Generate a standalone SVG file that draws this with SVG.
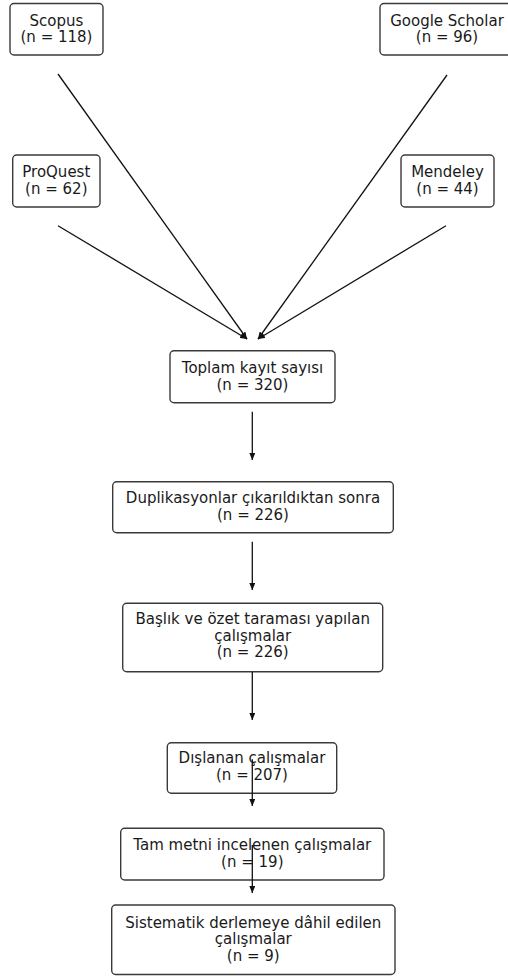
<svg xmlns="http://www.w3.org/2000/svg" width="508" height="976" viewBox="0 0 508 976">
<style>
.box{fill:#fff;stroke:#3a3a3a;stroke-width:1.4}
.lbl{font-family:"DejaVu Sans","Liberation Sans",sans-serif;font-size:15px;fill:#1a1a1a;text-anchor:middle}
.edge{stroke:#111;stroke-width:1.3;fill:none;marker-end:url(#ah)}
</style>
<defs>
<marker id="ah" markerUnits="userSpaceOnUse" markerWidth="7" markerHeight="6" viewBox="0 0 7 6" refX="7" refY="3" orient="auto">
<path d="M0,0 L7,3 L0,6 Z" fill="#111"/>
</marker>
</defs>
<rect width="508" height="976" fill="#fff"/>
<g id="scopus">
<rect class="box" x="10" y="3.5" width="93" height="51.5" rx="4"/>
<text class="lbl" x="56.5" y="26">Scopus</text>
<text class="lbl" x="56.5" y="42.3">(n = 118)</text>
</g>
<g id="google-scholar">
<rect class="box" x="380" y="3.5" width="134" height="51.5" rx="4"/>
<text class="lbl" x="447" y="26">Google Scholar</text>
<text class="lbl" x="447" y="42.3">(n = 96)</text>
</g>
<g id="proquest">
<rect class="box" x="12.7" y="155" width="87.3" height="52" rx="4"/>
<text class="lbl" x="56.3" y="177">ProQuest</text>
<text class="lbl" x="56.3" y="193.7">(n = 62)</text>
</g>
<g id="mendeley">
<rect class="box" x="401" y="155" width="93" height="52" rx="4"/>
<text class="lbl" x="447.5" y="177">Mendeley</text>
<text class="lbl" x="447.5" y="193.7">(n = 44)</text>
</g>
<g id="toplam">
<rect class="box" x="170" y="350.7" width="165" height="52" rx="4"/>
<text class="lbl" x="252.5" y="373.3">Toplam kayıt sayısı</text>
<text class="lbl" x="252.5" y="390">(n = 320)</text>
</g>
<g id="duplikasyon">
<rect class="box" x="112.7" y="481.7" width="280.6" height="51" rx="4"/>
<text class="lbl" x="253" y="503.3">Duplikasyonlar çıkarıldıktan sonra</text>
<text class="lbl" x="253" y="520">(n = 226)</text>
</g>
<g id="baslik-ozet">
<rect class="box" x="122.7" y="603.3" width="260" height="68.4" rx="4"/>
<text class="lbl" x="252.7" y="624">Başlık ve özet taraması yapılan</text>
<text class="lbl" x="252.7" y="640.7">çalışmalar</text>
<text class="lbl" x="252.7" y="657.4">(n = 226)</text>
</g>
<g id="dislanan">
<rect class="box" x="167.3" y="742.7" width="169.4" height="50.6" rx="4"/>
<text class="lbl" x="252" y="763.3">Dışlanan çalışmalar</text>
<text class="lbl" x="252" y="780">(n = 207)</text>
</g>
<g id="tam-metin">
<rect class="box" x="120.7" y="828.3" width="263.3" height="51.7" rx="4"/>
<text class="lbl" x="252.3" y="850">Tam metni incelenen çalışmalar</text>
<text class="lbl" x="252.3" y="866.7">(n = 19)</text>
</g>
<g id="sistematik">
<rect class="box" x="111.7" y="905" width="283.3" height="69.5" rx="4"/>
<text class="lbl" x="253.3" y="927.5">Sistematik derlemeye dâhil edilen</text>
<text class="lbl" x="253.3" y="944.3">çalışmalar</text>
<text class="lbl" x="253.3" y="961">(n = 9)</text>
</g>
<g id="connectors">
<line class="edge" x1="58" y1="74" x2="247" y2="339"/>
<line class="edge" x1="58" y1="225.7" x2="247" y2="339"/>
<line class="edge" x1="447" y1="75" x2="258" y2="339"/>
<line class="edge" x1="446" y1="225.7" x2="258" y2="339"/>
<line class="edge" x1="252.3" y1="411.7" x2="252.3" y2="460"/>
<line class="edge" x1="252.3" y1="541.7" x2="252.3" y2="590"/>
<line class="edge" x1="252.3" y1="672" x2="252.3" y2="720"/>
<line class="edge" x1="252.3" y1="759.3" x2="252.3" y2="806"/>
<line class="edge" x1="252.3" y1="845" x2="252.3" y2="893"/>
</g>
</svg>
